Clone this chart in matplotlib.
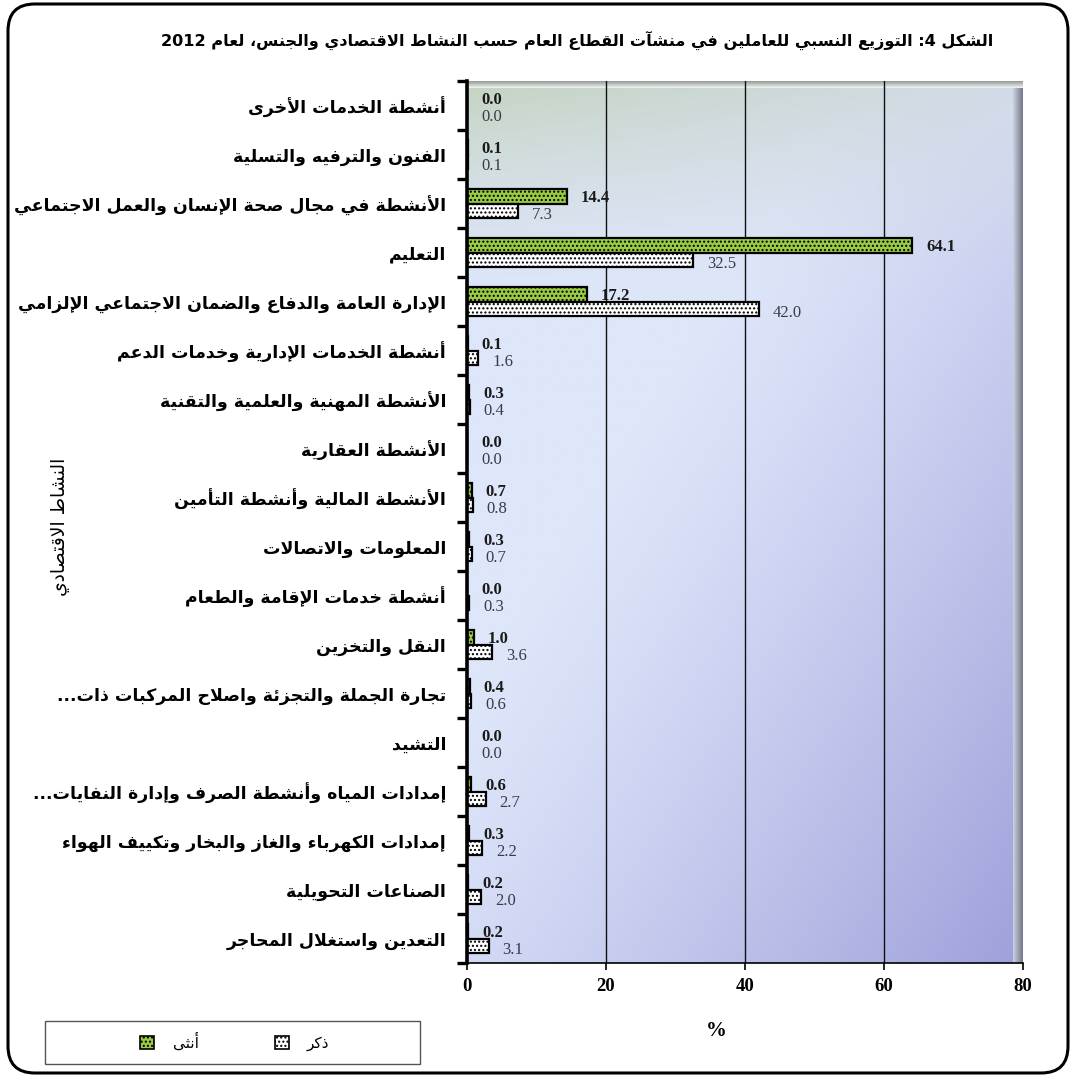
import re
import numpy as np
import matplotlib
matplotlib.use("Agg")
import matplotlib.pyplot as plt
from matplotlib.patches import Patch, Rectangle, FancyBboxPatch

# ---- data ----
categories = [
    "أنشطة الخدمات الأخرى",
    "الفنون والترفيه والتسلية",
    "الأنشطة في مجال صحة الإنسان والعمل الاجتماعي",
    "التعليم",
    "الإدارة العامة والدفاع والضمان الاجتماعي الإلزامي",
    "أنشطة الخدمات الإدارية وخدمات الدعم",
    "الأنشطة المهنية والعلمية والتقنية",
    "الأنشطة العقارية",
    "الأنشطة المالية وأنشطة التأمين",
    "المعلومات والاتصالات",
    "أنشطة خدمات الإقامة والطعام",
    "النقل والتخزين",
    "تجارة الجملة والتجزئة واصلاح المركبات ذات...",
    "التشيد",
    "إمدادات المياه وأنشطة الصرف وإدارة النفايات...",
    "إمدادات الكهرباء والغاز والبخار وتكييف الهواء",
    "الصناعات التحويلية",
    "التعدين واستغلال المحاجر",
]
female = [0.0, 0.1, 14.4, 64.1, 17.2, 0.1, 0.3, 0.0, 0.7, 0.3, 0.0, 1.0, 0.4, 0.0, 0.6, 0.3, 0.2, 0.2]
male = [0.0, 0.1, 7.3, 32.5, 42.0, 1.6, 0.4, 0.0, 0.8, 0.7, 0.3, 3.6, 0.6, 0.0, 2.7, 2.2, 2.0, 3.1]
xticks = [0, 20, 40, 60, 80]
title = "الشكل 4: التوزيع النسبي للعاملين في منشآت القطاع العام حسب النشاط الاقتصادي والجنس، لعام 2012"
ylabel = "النشاط الاقتصادي"
legend_female = "أنثى"
legend_male = "ذكر"

# ---- minimal arabic shaping (matplotlib has no complex text layout) ----
FORMS = {
    'ء': (0xFE80, 1), 'آ': (0xFE81, 2), 'أ': (0xFE83, 2), 'ؤ': (0xFE85, 2), 'إ': (0xFE87, 2),
    'ئ': (0xFE89, 4), 'ا': (0xFE8D, 2), 'ب': (0xFE8F, 4), 'ة': (0xFE93, 2), 'ت': (0xFE95, 4),
    'ث': (0xFE99, 4), 'ج': (0xFE9D, 4), 'ح': (0xFEA1, 4), 'خ': (0xFEA5, 4), 'د': (0xFEA9, 2),
    'ذ': (0xFEAB, 2), 'ر': (0xFEAD, 2), 'ز': (0xFEAF, 2), 'س': (0xFEB1, 4), 'ش': (0xFEB5, 4),
    'ص': (0xFEB9, 4), 'ض': (0xFEBD, 4), 'ط': (0xFEC1, 4), 'ظ': (0xFEC5, 4), 'ع': (0xFEC9, 4),
    'غ': (0xFECD, 4), 'ف': (0xFED1, 4), 'ق': (0xFED5, 4), 'ك': (0xFED9, 4), 'ل': (0xFEDD, 4),
    'م': (0xFEE1, 4), 'ن': (0xFEE5, 4), 'ه': (0xFEE9, 4), 'و': (0xFEED, 2), 'ى': (0xFEEF, 2),
    'ي': (0xFEF1, 4),
}
LAM_ALEF = {'آ': 0xFEF5, 'أ': 0xFEF7, 'إ': 0xFEF9, 'ا': 0xFEFB}


def joins_next(c):
    return c in FORMS and FORMS[c][1] == 4


def joins_prev(c):
    return c in FORMS and c != 'ء'


def shape(word):
    out = []
    i = 0
    n = len(word)
    while i < n:
        c = word[i]
        if c not in FORMS:
            out.append(c)
            i += 1
            continue
        prev = i > 0 and joins_next(word[i - 1])
        if c == 'ل' and i + 1 < n and word[i + 1] in LAM_ALEF:
            out.append(chr(LAM_ALEF[word[i + 1]] + (1 if prev else 0)))
            i += 2
            continue
        nxt = joins_next(c) and i + 1 < n and joins_prev(word[i + 1])
        base, k = FORMS[c]
        if k == 1:
            f = 0
        elif prev and nxt:
            f = 3
        elif prev:
            f = 1
        elif nxt:
            f = 2
        else:
            f = 0
        out.append(chr(base + f))
        i += 1
    return ''.join(out)


def ar(text):
    vis = []
    for w in text.split(' '):
        runs = re.findall(r'\d+(?:\.\d+)?|\D+', shape(w))
        vis.append(''.join(r if r[0].isdigit() else r[::-1] for r in reversed(runs)))
    return ' '.join(reversed(vis))


AR_FONT = ['DejaVu Sans']
NUM_FONT = ['Liberation Serif', 'DejaVu Serif']

fig = plt.figure(figsize=(10.75, 10.77), dpi=100)
W, H = 1075, 1077
top_px, bot_px = 81, 963
ax = fig.add_axes([467 / W, 1 - bot_px / H, (1023 - 467) / W, (bot_px - top_px) / H])

n = len(categories)
y = np.arange(n)
ax.set_xlim(0, 80)
ax.set_ylim(n - 0.5, -0.5)
row_px = (bot_px - top_px) / n

# gradient background
gx, gy = np.meshgrid(np.linspace(0, 1, 300), np.linspace(0, 1, 300))
base = np.array([222, 230, 250.0])
purple = np.array([158, 160, 218.0])
topc_l = np.array([196, 212, 192.0])
topc_r = np.array([210, 220, 232.0])
wd = np.clip(((gx + gy) / 2 - 0.35) / 0.65, 0, 1) ** 1.2
img = base * (1 - wd[..., None]) + purple * wd[..., None]
wt = np.clip(1 - gy / 0.25, 0, 1) ** 1.5
topc = topc_l * (1 - gx[..., None]) + topc_r * gx[..., None]
img = img * (1 - wt[..., None]) + topc * wt[..., None]
ax.imshow(img / 255, extent=(0, 80, n - 0.5, -0.5), aspect='auto', origin='upper', zorder=0)

# bevel on right and top
bev_w = 10 / 6.95
strip = np.linspace(0, 1, 50)
bev = np.array([205, 210, 225.0]) * (1 - strip[:, None]) + np.array([115, 118, 135.0]) * strip[:, None]
ax.imshow(bev[None, :, :] / 255, extent=(80 - bev_w, 80, n - 0.5, -0.5), aspect='auto', zorder=0.5)
top_h = 7 / row_px
tstrip = np.linspace(0, 1, 20)
tb = np.array([150, 155, 150.0]) * (1 - tstrip[:, None]) + np.array([240, 244, 245.0]) * tstrip[:, None]
ax.imshow(tb[:, None, :] / 255, extent=(0, 80, -0.5 + top_h, -0.5), aspect='auto', zorder=0.5)

for gxv in xticks[1:-1]:
    ax.axvline(gxv, color='#111111', lw=1.0, zorder=1)

bh = 0.29
ax.barh(y - bh / 2, female, height=bh, color='#99cc44', edgecolor='black', hatch='....',
        linewidth=1.6, zorder=3)
ax.barh(y + bh / 2, male, height=bh, color='white', edgecolor='black', hatch='....',
        linewidth=1.6, zorder=3)

for i in range(n):
    ax.annotate(f"{female[i]:.1f}", (female[i], i - bh / 2), xytext=(10, -1.5),
                textcoords='offset points', va='center', ha='left', fontsize=12,
                fontweight='bold', family=NUM_FONT, color='#1a1a1a', zorder=4)
    ax.annotate(f"{male[i]:.1f}", (male[i], i + bh / 2), xytext=(10, -3.5),
                textcoords='offset points', va='center', ha='left', fontsize=12,
                family=NUM_FONT, color='#3a3a48', zorder=4)

ax.set_yticks(y)
ax.set_yticklabels([ar(c) for c in categories], family=AR_FONT, fontweight='bold', fontsize=12.5)
ax.set_yticks(np.arange(-0.5, n, 1), minor=True)
ax.tick_params(axis='y', which='major', length=0, pad=15)
ax.tick_params(axis='y', which='minor', length=7, width=2.4, direction='out', color='black')
ax.set_xticks(xticks)
ax.set_xticklabels([str(t) for t in xticks], family=NUM_FONT, fontweight='bold', fontsize=13.5)
ax.tick_params(axis='x', length=5, width=1.2, direction='out', pad=6)

for s in ['top', 'right']:
    ax.spines[s].set_visible(False)
ax.spines['left'].set_linewidth(2.6)
ax.spines['bottom'].set_linewidth(1.2)
ax.spines['left'].set_zorder(5)

fig.text(993 / W, 1 - 40 / H, ar(title), ha='right', va='center', family=AR_FONT,
         fontweight='bold', fontsize=11.6)
fig.text(60 / W, 1 - 527 / H, ar(ylabel), rotation=90, ha='center', va='center',
         family=AR_FONT, fontsize=13.5)
fig.text(716 / W, 1 - 1031 / H, '%', ha='center', va='center', family=NUM_FONT,
         fontweight='bold', fontsize=15)

# legend box
fig.patches.append(Rectangle((45 / W, 1 - 1064 / H), 375 / W, 43 / H, transform=fig.transFigure,
                             facecolor='white', edgecolor='#555555', lw=1.0))
handles = [Patch(facecolor='#99cc44', edgecolor='black', hatch='....', lw=1.2),
           Patch(facecolor='white', edgecolor='black', hatch='....', lw=1.2)]
fig.legend(handles, [ar(legend_female), ar(legend_male)], loc='center',
           bbox_to_anchor=(235 / W, 1 - 1042 / H), ncol=2, frameon=False,
           prop={'family': AR_FONT, 'size': 11}, handlelength=0.9, handleheight=0.9,
           handletextpad=1.2, columnspacing=5.0)

# rounded outer border
fig.patches.append(FancyBboxPatch((8 / W, 4 / H), 1060 / W, 1069 / H, transform=fig.transFigure,
                                  boxstyle='round,pad=0,rounding_size=0.025', facecolor='none',
                                  edgecolor='black', lw=2.2))

fig.savefig('out.png', dpi=100)
